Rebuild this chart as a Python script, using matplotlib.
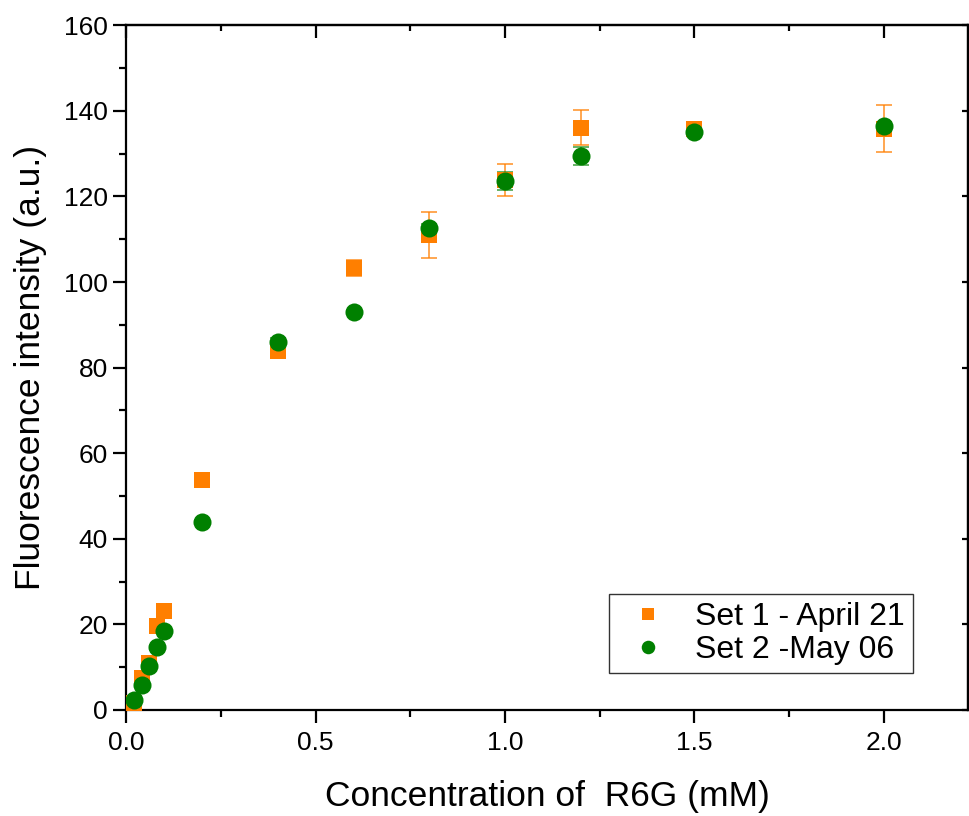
import matplotlib
matplotlib.use('Agg')
import matplotlib.pyplot as plt
from matplotlib.ticker import MultipleLocator

plt.rcParams['font.family'] = ['Liberation Sans', 'DejaVu Sans']

# concentration of R6G (mM)
conc = [0.02, 0.04, 0.06, 0.08, 0.1, 0.2, 0.4, 0.6, 0.8, 1.0, 1.2, 1.5, 2.0]

# Set 1 - April 21
set1 = [1.6, 7.5, 11.0, 19.7, 23.1, 53.7, 83.8, 103.3, 111.0, 123.9, 136.1, 135.8, 135.8]
set1_err = [0.4, 0.5, 0.6, 0.6, 0.6, 0.6, 0.8, 1.8, 5.3, 3.7, 4.0, 0.6, 5.5]

# Set 2 - May 06
set2 = [2.3, 5.8, 10.3, 14.6, 18.4, 44.0, 85.9, 93.0, 112.7, 123.6, 129.4, 135.1, 136.4]
set2_err = [0.3, 0.4, 0.4, 0.5, 0.5, 0.5, 1.1, 0.5, 0.9, 2.1, 2.1, 0.5, 0.5]

orange = '#FF7F00'
green = '#008000'

fig = plt.figure(figsize=(9.69, 8.16), dpi=100)
ax = fig.add_axes([0.1305, 0.130, 0.868, 0.839])

ax.errorbar(conc, set1, yerr=set1_err, fmt='none', ecolor=orange, elinewidth=1.2,
            capsize=6, capthick=1.2, alpha=0.8, zorder=2)
ax.errorbar(conc, set2, yerr=set2_err, fmt='none', ecolor=green, elinewidth=1.2,
            capsize=6, capthick=1.2, alpha=0.7, zorder=2)
ax.plot(conc, set1, 's', color=orange, markersize=11, markeredgewidth=0,
        label='Set 1 - April 21', zorder=3)
ax.plot(conc, set2, 'o', color=green, markersize=13, markeredgewidth=0,
        label='Set 2 -May 06', zorder=4)

ax.set_xlim(0, 2.222)
ax.set_ylim(0, 160)
ax.xaxis.set_major_locator(MultipleLocator(0.5))
ax.xaxis.set_minor_locator(MultipleLocator(0.25))
ax.yaxis.set_major_locator(MultipleLocator(20))
ax.yaxis.set_minor_locator(MultipleLocator(10))

for s in ax.spines.values():
    s.set_linewidth(1.6)

ax.tick_params(which='major', direction='out', length=9.5, width=1.6, labelsize=19)
ax.tick_params(axis='x', which='major', pad=6)
ax.tick_params(axis='y', which='major', pad=4)
ax.tick_params(which='minor', direction='out', length=5, width=1.6)

top = ax.secondary_xaxis('top')
top.xaxis.set_major_locator(MultipleLocator(0.5))
top.xaxis.set_minor_locator(MultipleLocator(0.25))
top.tick_params(which='major', direction='in', length=9, width=1.6, labeltop=False)
top.tick_params(which='minor', direction='in', length=4.5, width=1.6)
top.spines['top'].set_linewidth(1.6)

right = ax.secondary_yaxis('right')
right.yaxis.set_major_locator(MultipleLocator(20))
right.tick_params(which='major', direction='in', length=4.5, width=1.6, labelright=False)
right.tick_params(which='minor', length=0)
right.spines['right'].set_linewidth(1.6)

ax.set_xlabel('Concentration of  R6G (mM)', fontsize=25.5, labelpad=18)
ax.set_ylabel('Fluorescence intensity (a.u.)', fontsize=25.5, labelpad=12)

leg = ax.legend(loc='lower right', bbox_to_anchor=(0.9346, 0.054), borderaxespad=0,
                fontsize=23, frameon=True, fancybox=False, edgecolor='black',
                handletextpad=0.45, borderpad=0.25, labelspacing=0.1,
                handlelength=2.0, markerscale=0.75)
leg.get_frame().set_linewidth(1.0)

fig.savefig('out.png', dpi=100)
